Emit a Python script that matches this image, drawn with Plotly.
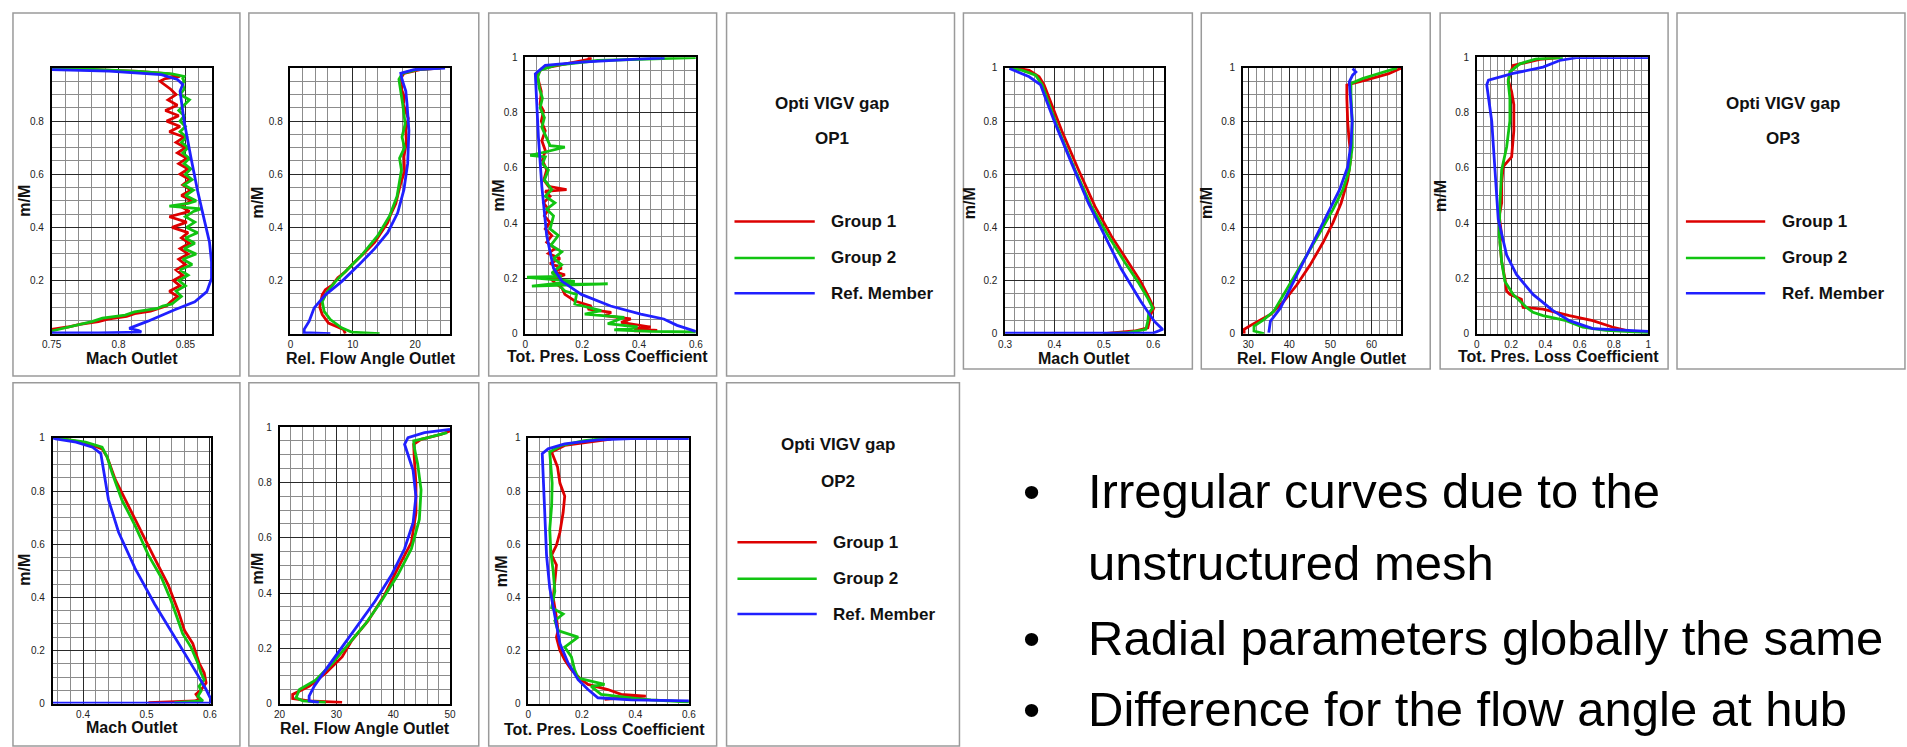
import plotly.graph_objects as go

W, H = 1907, 747
RED, GREEN, BLUE = '#dd0000', '#11c411', '#2020ff'

# ---------------- DATA (m/M on y) ----------------
# OP1 Mach Outlet
op1_mach_g1_x = [0.75, 0.762, 0.771, 0.785, 0.792, 0.806, 0.812, 0.824, 0.830, 0.836,
                 0.839, 0.844, 0.838, 0.846, 0.841, 0.848, 0.843, 0.850, 0.845, 0.852,
                 0.846, 0.853, 0.847, 0.852, 0.840, 0.851, 0.838, 0.853, 0.846, 0.855,
                 0.847, 0.854, 0.848, 0.853, 0.846, 0.852, 0.845, 0.851, 0.844, 0.850,
                 0.843, 0.849, 0.838, 0.846, 0.836, 0.845, 0.835, 0.844, 0.837, 0.843,
                 0.839, 0.834, 0.831, 0.835, 0.846, 0.838, 0.815, 0.785, 0.75]
op1_mach_g1_y = [0.016, 0.025, 0.035, 0.045, 0.055, 0.065, 0.075, 0.085, 0.095, 0.105,
                 0.12, 0.14, 0.16, 0.18, 0.20, 0.22, 0.24, 0.26, 0.28, 0.30,
                 0.32, 0.34, 0.36, 0.38, 0.40, 0.42, 0.44, 0.46, 0.48, 0.50,
                 0.52, 0.54, 0.56, 0.58, 0.60, 0.62, 0.64, 0.66, 0.68, 0.70,
                 0.72, 0.74, 0.76, 0.78, 0.80, 0.82, 0.84, 0.86, 0.88, 0.90,
                 0.92, 0.94, 0.95, 0.96, 0.968, 0.978, 0.987, 0.993, 0.997]
op1_mach_g2_x = [0.75, 0.765, 0.780, 0.788, 0.805, 0.812, 0.829, 0.833, 0.840,
                 0.842, 0.847, 0.843, 0.850, 0.845, 0.852, 0.846, 0.855, 0.848, 0.858,
                 0.849, 0.857, 0.850, 0.859, 0.851, 0.857, 0.850, 0.856, 0.862, 0.838,
                 0.852, 0.858, 0.850, 0.856, 0.849, 0.855, 0.850, 0.854, 0.849, 0.853,
                 0.848, 0.852, 0.847, 0.851, 0.846, 0.850, 0.846, 0.849, 0.845, 0.849,
                 0.853, 0.846, 0.849, 0.848, 0.849, 0.848, 0.849, 0.840, 0.815, 0.785, 0.75]
op1_mach_g2_y = [0.010, 0.028, 0.045, 0.058, 0.070, 0.082, 0.095, 0.104, 0.112,
                 0.12, 0.14, 0.16, 0.18, 0.20, 0.22, 0.24, 0.26, 0.28, 0.30,
                 0.32, 0.34, 0.36, 0.38, 0.40, 0.42, 0.44, 0.46, 0.47, 0.48,
                 0.49, 0.50, 0.52, 0.54, 0.56, 0.58, 0.60, 0.62, 0.64, 0.66,
                 0.68, 0.70, 0.72, 0.74, 0.76, 0.78, 0.80, 0.82, 0.84, 0.86,
                 0.88, 0.90, 0.92, 0.94, 0.95, 0.96, 0.968, 0.978, 0.987, 0.994, 1.0]
op1_mach_ref_x = [0.75, 0.785, 0.817, 0.815, 0.808, 0.822, 0.842, 0.857, 0.866, 0.8695,
                  0.8695, 0.868, 0.864, 0.859, 0.854, 0.849, 0.846, 0.848, 0.844, 0.832,
                  0.793, 0.75]
op1_mach_ref_y = [0.003, 0.003, 0.006, 0.012, 0.02, 0.047, 0.09, 0.12, 0.158, 0.208,
                  0.27, 0.344, 0.43, 0.54, 0.666, 0.80, 0.913, 0.938, 0.957, 0.975,
                  0.988, 0.994]

# OP1 Rel. Flow Angle Outlet
op1_ang_g1_x = [8.8, 8.5, 6.1, 5.1, 4.7, 5.1, 5.6, 6.7, 7.6, 8.8, 9.9, 10.9, 12.1, 13.5,
                14.5, 15.6, 16.1, 16.9, 17.3, 17.7, 18.3, 18.2, 18.6, 18.5, 18.9, 18.1,
                18.3, 17.8, 18.0, 17.6, 18.2, 20.8, 24.0]
op1_ang_g1_y = [0.0, 0.016, 0.04, 0.072, 0.10, 0.146, 0.165, 0.183, 0.21, 0.233, 0.26,
                0.282, 0.31, 0.344, 0.38, 0.418, 0.45, 0.49, 0.53, 0.567, 0.61, 0.666,
                0.72, 0.765, 0.81, 0.864, 0.89, 0.92, 0.94, 0.957, 0.98, 0.994, 1.0]
op1_ang_g2_x = [14.3, 9.8, 8.2, 6.4, 5.4, 5.1, 5.9, 7.2, 9.3, 11.4, 14.0, 15.9, 17.1,
                17.8, 17.5, 18.3, 17.9, 18.4, 18.0, 17.6, 17.4, 18.0, 20.3, 24.0]
op1_ang_g2_y = [0.0, 0.006, 0.022, 0.053, 0.084, 0.121, 0.158, 0.196, 0.245, 0.295,
                0.369, 0.443, 0.517, 0.616, 0.66, 0.70, 0.74, 0.79, 0.864, 0.926,
                0.957, 0.98, 0.994, 1.0]
op1_ang_ref_x = [6.4, 2.2, 2.2, 3.0, 3.8, 5.6, 8.2, 10.9, 13.5, 15.6, 17.2, 18.2, 18.8,
                 19.0, 18.7, 18.5, 17.9, 17.7, 19.8, 24.8]
op1_ang_ref_y = [0.0, 0.004, 0.016, 0.047, 0.097, 0.146, 0.196, 0.257, 0.32, 0.38,
                 0.455, 0.542, 0.64, 0.765, 0.864, 0.913, 0.957, 0.98, 0.994, 1.0]

# OP1 Tot. Pres. Loss Coefficient
op1_loss_g1_x = [0.383, 0.464, 0.383, 0.441, 0.337, 0.371, 0.279, 0.302, 0.22, 0.232,
                 0.174, 0.139, 0.128, 0.104, 0.093, 0.139, 0.099, 0.128, 0.087, 0.122,
                 0.081, 0.104, 0.075, 0.093, 0.07, 0.087, 0.067, 0.081, 0.064, 0.087,
                 0.07, 0.145, 0.081, 0.065, 0.075, 0.06, 0.07, 0.058, 0.07, 0.056,
                 0.064, 0.052, 0.056, 0.046, 0.041, 0.058, 0.139, 0.232, 0.22]
op1_loss_g1_y = [0.01, 0.012, 0.018, 0.024, 0.041, 0.053, 0.065, 0.077, 0.089, 0.1,
                 0.118, 0.142, 0.166, 0.183, 0.195, 0.213, 0.225, 0.237, 0.254, 0.272,
                 0.29, 0.308, 0.331, 0.355, 0.379, 0.402, 0.426, 0.45, 0.473, 0.497,
                 0.515, 0.521, 0.533, 0.556, 0.592, 0.627, 0.663, 0.698, 0.734, 0.769,
                 0.805, 0.828, 0.876, 0.911, 0.935, 0.959, 0.976, 0.994, 1.0]
op1_loss_g2_x = [0.6, 0.441, 0.313, 0.395, 0.29, 0.348, 0.209, 0.267, 0.174, 0.18,
                 0.139, 0.116, 0.29, 0.023, 0.174, 0.006, 0.128, 0.093, 0.128, 0.099,
                 0.128, 0.09, 0.116, 0.087, 0.099, 0.075, 0.104, 0.07, 0.093, 0.067,
                 0.081, 0.06, 0.07, 0.017, 0.07, 0.139, 0.087, 0.075, 0.058, 0.067,
                 0.052, 0.06, 0.049, 0.044, 0.052, 0.104, 0.255, 0.6]
op1_loss_g2_y = [0.006, 0.008, 0.014, 0.024, 0.036, 0.059, 0.071, 0.083, 0.107, 0.142,
                 0.154, 0.178, 0.18, 0.172, 0.189, 0.204, 0.207, 0.219, 0.249, 0.272,
                 0.296, 0.32, 0.355, 0.379, 0.426, 0.45, 0.473, 0.497, 0.521, 0.556,
                 0.592, 0.615, 0.639, 0.645, 0.657, 0.675, 0.68, 0.71, 0.746, 0.781,
                 0.817, 0.852, 0.888, 0.929, 0.953, 0.97, 0.988, 0.998]
op1_loss_ref_x = [0.6, 0.534, 0.487, 0.406, 0.30, 0.197, 0.128, 0.099, 0.075, 0.058,
                  0.046, 0.037, 0.035, 0.07, 0.197, 0.406, 0.49]
op1_loss_ref_y = [0.008, 0.03, 0.053, 0.071, 0.10, 0.142, 0.19, 0.237, 0.355, 0.533,
                  0.71, 0.876, 0.94, 0.97, 0.982, 0.994, 0.997]

# OP3 Mach Outlet
op3_mach_g1_x = [0.50, 0.562, 0.589, 0.595, 0.601, 0.592, 0.575, 0.549, 0.515, 0.482,
                 0.449, 0.415, 0.389, 0.379, 0.369, 0.349, 0.322]
op3_mach_g1_y = [0.0, 0.01, 0.022, 0.072, 0.096, 0.133, 0.195, 0.27, 0.368, 0.479,
                 0.615, 0.763, 0.886, 0.936, 0.967, 0.991, 1.0]
op3_mach_g2_x = [0.50, 0.549, 0.585, 0.589, 0.591, 0.599, 0.589, 0.569, 0.542, 0.509,
                 0.475, 0.442, 0.409, 0.385, 0.375, 0.362, 0.335, 0.309]
op3_mach_g2_y = [0.0, 0.004, 0.016, 0.047, 0.078, 0.096, 0.133, 0.195, 0.27, 0.368,
                 0.479, 0.615, 0.763, 0.886, 0.936, 0.973, 0.991, 1.0]
op3_mach_ref_x = [0.30, 0.60, 0.619, 0.602, 0.575, 0.535, 0.502, 0.469, 0.435, 0.402,
                  0.382, 0.372, 0.349, 0.325, 0.309]
op3_mach_ref_y = [0.002, 0.002, 0.016, 0.047, 0.121, 0.244, 0.368, 0.49, 0.64, 0.788,
                  0.886, 0.936, 0.967, 0.985, 0.998]

# OP3 Rel. Flow Angle Outlet
op3_ang_g1_x = [29.0, 29.0, 31.0, 35.4, 38.6, 41.8, 45.0, 48.2, 50.6, 52.6, 54.2, 55.0,
                54.5, 54.2, 54.0, 54.0, 58.6, 64.2, 67.3]
op3_ang_g1_y = [0.0, 0.016, 0.035, 0.072, 0.121, 0.183, 0.257, 0.343, 0.417, 0.491,
                0.578, 0.664, 0.738, 0.80, 0.886, 0.936, 0.954, 0.979, 1.0]
op3_ang_g2_x = [33.8, 31.4, 31.4, 33.8, 36.2, 38.6, 41.0, 44.2, 47.4, 50.6, 53.0, 54.6,
                55.3, 55.3, 55.0, 55.0, 57.8, 63.4, 66.2]
op3_ang_g2_y = [0.0, 0.01, 0.028, 0.053, 0.084, 0.146, 0.207, 0.294, 0.38, 0.467,
                0.541, 0.615, 0.701, 0.80, 0.899, 0.942, 0.96, 0.985, 1.0]
op3_ang_ref_x = [35.0, 35.4, 37.8, 40.2, 42.6, 45.0, 47.4, 49.8, 52.2, 54.2, 55.0, 55.3,
                 55.0, 54.6, 55.4, 56.2, 55.4]
op3_ang_ref_y = [0.004, 0.047, 0.096, 0.17, 0.244, 0.318, 0.393, 0.467, 0.541, 0.627,
                 0.714, 0.80, 0.886, 0.948, 0.973, 0.985, 0.998]

# OP3 Tot. Pres. Loss Coefficient
op3_loss_g1_x = [0.869, 0.79, 0.676, 0.54, 0.386, 0.27, 0.26, 0.193, 0.174, 0.164,
                 0.145, 0.135, 0.145, 0.131, 0.145, 0.145, 0.154, 0.203, 0.216, 0.216,
                 0.203, 0.183, 0.212, 0.367, 0.483]
op3_loss_g1_y = [0.012, 0.024, 0.047, 0.065, 0.089, 0.095, 0.124, 0.142, 0.154, 0.2,
                 0.26, 0.331, 0.355, 0.426, 0.473, 0.544, 0.604, 0.639, 0.734, 0.828,
                 0.876, 0.917, 0.97, 0.992, 0.998]
op3_loss_g2_x = [1.0, 0.753, 0.618, 0.521, 0.386, 0.328, 0.29, 0.212, 0.164, 0.145,
                 0.131, 0.135, 0.145, 0.174, 0.193, 0.193, 0.183, 0.193, 0.251, 0.347,
                 0.502]
op3_loss_g2_y = [0.004, 0.012, 0.024, 0.047, 0.065, 0.077, 0.095, 0.142, 0.189, 0.26,
                 0.355, 0.473, 0.592, 0.675, 0.769, 0.852, 0.911, 0.947, 0.976, 0.994,
                 0.998]
op3_loss_ref_x = [1.0, 0.869, 0.676, 0.54, 0.444, 0.328, 0.232, 0.174, 0.125, 0.106,
                  0.087, 0.058, 0.068, 0.212, 0.386, 0.483, 0.58, 1.0]
op3_loss_ref_y = [0.008, 0.012, 0.018, 0.047, 0.083, 0.142, 0.213, 0.284, 0.414, 0.592,
                  0.769, 0.90, 0.917, 0.941, 0.964, 0.988, 0.998, 0.998]

# OP2 Mach Outlet
op2_mach_g1_x = [0.503, 0.576, 0.583, 0.578, 0.587, 0.594, 0.591, 0.583, 0.573, 0.56,
                 0.55, 0.534, 0.513, 0.492, 0.472, 0.451, 0.438, 0.430, 0.409, 0.378,
                 0.355]
op2_mach_g1_y = [0.004, 0.01, 0.016, 0.035, 0.055, 0.078, 0.115, 0.152, 0.226, 0.275,
                 0.349, 0.448, 0.546, 0.645, 0.744, 0.842, 0.928, 0.959, 0.978, 0.993,
                 1.0]
op2_mach_g2_x = [0.544, 0.589, 0.581, 0.586, 0.583, 0.591, 0.586, 0.581, 0.570, 0.557,
                 0.55, 0.539, 0.524, 0.503, 0.482, 0.461, 0.446, 0.438, 0.430, 0.404,
                 0.357]
op2_mach_g2_y = [0.004, 0.01, 0.028, 0.047, 0.065, 0.09, 0.115, 0.152, 0.213, 0.263,
                 0.312, 0.386, 0.472, 0.559, 0.67, 0.768, 0.867, 0.928, 0.965, 0.984,
                 1.0]
op2_mach_ref_x = [0.352, 0.601, 0.6016, 0.594, 0.576, 0.544, 0.513, 0.482, 0.456, 0.440,
                  0.433, 0.428, 0.415, 0.389, 0.357, 0.352]
op2_mach_ref_y = [0.002, 0.002, 0.016, 0.053, 0.127, 0.25, 0.374, 0.509, 0.645, 0.768,
                  0.867, 0.941, 0.965, 0.984, 0.996, 1.0]

# OP2 Rel. Flow Angle Outlet
op2_ang_g1_x = [31.0, 25.2, 22.3, 22.3, 25.2, 28.1, 31.0, 32.7, 35.6, 38.5, 40.8, 43.2,
                44.0, 44.0, 43.7, 43.6, 44.9, 48.4, 50.0]
op2_ang_g1_y = [0.004, 0.01, 0.018, 0.033, 0.063, 0.11, 0.169, 0.228, 0.30, 0.394,
                0.489, 0.583, 0.69, 0.796, 0.891, 0.938, 0.956, 0.974, 0.986]
op2_ang_g2_x = [28.1, 24.1, 22.9, 23.5, 26.4, 29.3, 32.2, 35.1, 37.9, 40.8, 43.2, 44.6,
                44.9, 44.3, 43.7, 43.6, 46.1, 49.5]
op2_ang_g2_y = [0.004, 0.01, 0.021, 0.051, 0.086, 0.146, 0.217, 0.288, 0.37, 0.465,
                0.56, 0.666, 0.773, 0.867, 0.927, 0.95, 0.962, 0.98]
op2_ang_ref_x = [26.9, 25.2, 25.2, 26.1, 28.1, 31.0, 33.9, 36.8, 39.7, 42.0, 43.5, 44.0,
                 43.5, 42.6, 42.0, 42.6, 45.5, 50.0]
op2_ang_ref_y = [0.004, 0.01, 0.027, 0.063, 0.122, 0.205, 0.288, 0.37, 0.465, 0.56,
                 0.654, 0.749, 0.844, 0.903, 0.938, 0.962, 0.98, 0.992]

# OP2 Tot. Pres. Loss Coefficient
op2_loss_g1_x = [0.285, 0.439, 0.347, 0.297, 0.223, 0.198, 0.161, 0.136, 0.118, 0.105,
                 0.111, 0.105, 0.093, 0.099, 0.105, 0.087, 0.105, 0.118, 0.13, 0.136,
                 0.118, 0.109, 0.093, 0.087, 0.136, 0.26, 0.309]
op2_loss_g1_y = [0.016, 0.028, 0.035, 0.053, 0.072, 0.09, 0.127, 0.164, 0.2, 0.25,
                 0.275, 0.324, 0.398, 0.46, 0.522, 0.559, 0.596, 0.645, 0.719, 0.781,
                 0.83, 0.891, 0.928, 0.947, 0.972, 0.99, 0.996]
op2_loss_g2_x = [0.6, 0.458, 0.384, 0.272, 0.235, 0.285, 0.186, 0.173, 0.161, 0.136,
                 0.186, 0.111, 0.099, 0.13, 0.087, 0.099, 0.093, 0.084, 0.08, 0.087,
                 0.089, 0.084, 0.08, 0.124, 0.21, 0.285]
op2_loss_g2_y = [0.006, 0.014, 0.022, 0.035, 0.065, 0.072, 0.096, 0.127, 0.176, 0.213,
                 0.25, 0.275, 0.312, 0.337, 0.361, 0.423, 0.497, 0.571, 0.657, 0.744,
                 0.83, 0.904, 0.947, 0.972, 0.99, 0.998]
op2_loss_ref_x = [0.6, 0.384, 0.26, 0.223, 0.186, 0.149, 0.118, 0.099, 0.08, 0.068,
                  0.062, 0.056, 0.052, 0.074, 0.136, 0.26, 0.384, 0.6]
op2_loss_ref_y = [0.01, 0.014, 0.022, 0.053, 0.09, 0.152, 0.226, 0.324, 0.435, 0.559,
                  0.682, 0.805, 0.941, 0.959, 0.978, 0.993, 0.998, 0.998]

# Tick values / labels
mach1_ticks, mach1_labels = [0.75, 0.8, 0.85], ['0.75', '0.8', '0.85']
ang1_ticks = [0, 10, 20]
loss_ticks6 = [0, 0.2, 0.4, 0.6]
mach3_ticks = [0.3, 0.4, 0.5, 0.6]
ang3_ticks = [30, 40, 50, 60]
loss_ticks10 = [0, 0.2, 0.4, 0.6, 0.8, 1]
mach2_ticks = [0.4, 0.5, 0.6]
ang2_ticks = [20, 30, 40, 50]
y_ticks_inner = [0.2, 0.4, 0.6, 0.8]
y_ticks_full = [0, 0.2, 0.4, 0.6, 0.8, 1]

legend_names = ['Group 1', 'Group 2', 'Ref. Member']
bullets = ['Irregular curves due to the', 'unstructured mesh',
           'Radial parameters globally the same', 'Difference for the flow angle at hub']

# ---------------- LAYOUT CONFIG ----------------
def fx(p):
    return p / W

def fy(p):
    return 1 - p / H

panels = [
    dict(s=[(op1_mach_g1_x, op1_mach_g1_y), (op1_mach_g2_x, op1_mach_g2_y), (op1_mach_ref_x, op1_mach_ref_y)],
         box=(42, 204, 63, 333), xr=[0.75, 0.87], xt=mach1_ticks, xl=mach1_labels, xm=0.01, yt=y_ticks_inner,
         title='Mach Outlet', tpos=(123, 358), ypos=(15, 198)),
    dict(s=[(op1_ang_g1_x, op1_ang_g1_y), (op1_ang_g2_x, op1_ang_g2_y), (op1_ang_ref_x, op1_ang_ref_y)],
         box=(283, 444, 63, 333), xr=[0, 25.6], xt=ang1_ticks, xl=None, xm=2, yt=y_ticks_inner,
         title='Rel. Flow Angle Outlet', tpos=(364, 358), ypos=(250, 200)),
    dict(s=[(op1_loss_g1_x, op1_loss_g1_y), (op1_loss_g2_x, op1_loss_g2_y), (op1_loss_ref_x, op1_loss_ref_y)],
         box=(520, 692, 52, 333), xr=[0, 0.6], xt=loss_ticks6, xl=None, xm=0.04, yt=y_ticks_full,
         title='Tot. Pres. Loss Coefficient', tpos=(603, 356), ypos=(493, 193)),
    dict(s=[(op3_mach_g1_x, op3_mach_g1_y), (op3_mach_g2_x, op3_mach_g2_y), (op3_mach_ref_x, op3_mach_ref_y)],
         box=(1004, 1164, 63, 333), xr=[0.3, 0.621], xt=mach3_ticks, xl=None, xm=0.02, yt=y_ticks_full,
         title='Mach Outlet', tpos=(1084, 358), ypos=(968, 200)),
    dict(s=[(op3_ang_g1_x, op3_ang_g1_y), (op3_ang_g2_x, op3_ang_g2_y), (op3_ang_ref_x, op3_ang_ref_y)],
         box=(1244, 1404, 63, 333), xr=[28.7, 67.3], xt=ang3_ticks, xl=None, xm=2, yt=y_ticks_full,
         title='Rel. Flow Angle Outlet', tpos=(1324, 358), ypos=(1208, 200)),
    dict(s=[(op3_loss_g1_x, op3_loss_g1_y), (op3_loss_g2_x, op3_loss_g2_y), (op3_loss_ref_x, op3_loss_ref_y)],
         box=(1480, 1653, 52, 333), xr=[0, 1], xt=loss_ticks10, xl=None, xm=0.04, yt=y_ticks_full,
         title='Tot. Pres. Loss Coefficient', tpos=(1562, 356), ypos=(1444, 193)),
    dict(s=[(op2_mach_g1_x, op2_mach_g1_y), (op2_mach_g2_x, op2_mach_g2_y), (op2_mach_ref_x, op2_mach_ref_y)],
         box=(43, 203, 439, 709), xr=[0.352, 0.602], xt=mach2_ticks, xl=None, xm=0.02, yt=y_ticks_full,
         title='Mach Outlet', tpos=(123, 733), ypos=(15, 573)),
    dict(s=[(op2_ang_g1_x, op2_ang_g1_y), (op2_ang_g2_x, op2_ang_g2_y), (op2_ang_ref_x, op2_ang_ref_y)],
         box=(272, 444, 428, 709), xr=[20, 50], xt=ang2_ticks, xl=None, xm=2, yt=y_ticks_full,
         title='Rel. Flow Angle Outlet', tpos=(358, 734), ypos=(250, 572)),
    dict(s=[(op2_loss_g1_x, op2_loss_g1_y), (op2_loss_g2_x, op2_loss_g2_y), (op2_loss_ref_x, op2_loss_ref_y)],
         box=(523, 685, 439, 709), xr=[0, 0.6], xt=loss_ticks6, xl=None, xm=0.04, yt=y_ticks_full,
         title='Tot. Pres. Loss Coefficient', tpos=(600, 735), ypos=(496, 575)),
]

colors = [RED, GREEN, BLUE]
FONT = 'Liberation Sans, Arial, sans-serif'
fig = go.Figure()
layout = {}
annotations = []
shapes = []

# panel frames (Tecplot frames)
frames = [(3, 232, 7, 376), (241, 473, 7, 376), (483, 713, 7, 376), (723, 953, 7, 376),
          (962, 1193, 7, 369), (1202, 1433, 7, 369), (1443, 1673, 7, 369), (1682, 1912, 7, 369),
          (3, 232, 383, 752), (241, 473, 383, 752), (483, 713, 383, 752), (723, 958, 383, 752)]
for (a, b, c, d) in frames:
    shapes.append(dict(type='rect', xref='paper', yref='paper', x0=fx(a), x1=fx(b), y0=fy(d), y1=fy(c),
                       line=dict(color='#9a9a9a', width=1.5), layer='below'))

for i, p in enumerate(panels):
    n = i + 1
    sfx = '' if n == 1 else str(n)
    xa, ya = 'x' + sfx, 'y' + sfx
    for (xs, ys), col in zip(p['s'], colors):
        fig.add_trace(go.Scatter(x=xs, y=ys, xaxis=xa, yaxis=ya, mode='lines',
                                 line=dict(color=col, width=2.8), showlegend=False,
                                 hoverinfo='skip'))
    x0, x1, y0, y1 = p['box']
    tick_font = dict(family=FONT, size=10, color='#222')
    layout['xaxis' + sfx] = dict(
        domain=[fx(x0), fx(x1)], range=p['xr'], anchor=ya,
        tickvals=p['xt'], ticktext=p['xl'] if p['xl'] else None,
        showgrid=True, gridcolor='#2a2a2a', gridwidth=1,
        minor=dict(dtick=p['xm'], showgrid=True, gridcolor='#8c8c8c', gridwidth=1),
        showline=True, linecolor='black', linewidth=1.5, mirror=True,
        ticks='', tickfont=tick_font, zeroline=False, fixedrange=True, ticklabelstandoff=1)
    layout['yaxis' + sfx] = dict(
        domain=[fy(y1), fy(y0)], range=[0, 1], anchor=xa,
        tickvals=p['yt'], ticktext=[('%g' % v) for v in p['yt']],
        showgrid=True, gridcolor='#2a2a2a', gridwidth=1,
        minor=dict(dtick=0.05, showgrid=True, gridcolor='#8c8c8c', gridwidth=1),
        showline=True, linecolor='black', linewidth=1.5, mirror=True,
        ticks='', tickfont=tick_font, zeroline=False, fixedrange=True, ticklabelstandoff=4)
    tx, ty = p['tpos']
    annotations.append(dict(text='<b>%s</b>' % p['title'], x=fx(tx), y=fy(ty), xref='paper', yref='paper',
                            showarrow=False, xanchor='center', yanchor='middle',
                            font=dict(family=FONT, size=16, color='#111')))
    mx, my = p['ypos']
    annotations.append(dict(text='<b>m/M</b>', x=fx(mx), y=fy(my), xref='paper', yref='paper',
                            showarrow=False, xanchor='center', yanchor='middle', textangle=-90,
                            font=dict(family=FONT, size=16, color='#111')))

# legend boxes
legend_boxes = [
    dict(op='OP1', title_x=829, t1=99, t2=135, lx=(731, 812), ly=[219, 256, 292], text_x=826),
    dict(op='OP3', title_x=1789, t1=99, t2=135, lx=(1691, 1771), ly=[219, 256, 292], text_x=1786),
    dict(op='OP2', title_x=835, t1=446, t2=483, lx=(734, 814), ly=[545, 582, 618], text_x=828),
]
for lb in legend_boxes:
    for txt, yy in (('Opti VIGV gap', lb['t1']), (lb['op'], lb['t2'])):
        annotations.append(dict(text='<b>%s</b>' % txt, x=fx(lb['title_x']), y=fy(yy), xref='paper', yref='paper',
                                showarrow=False, xanchor='center', yanchor='middle',
                                font=dict(family=FONT, size=17, color='#111')))
    for name, col, yy in zip(legend_names, colors, lb['ly']):
        shapes.append(dict(type='line', xref='paper', yref='paper', x0=fx(lb['lx'][0]), x1=fx(lb['lx'][1]),
                           y0=fy(yy), y1=fy(yy), line=dict(color=col, width=2.5)))
        annotations.append(dict(text='<b>%s</b>' % name, x=fx(lb['text_x']), y=fy(yy), xref='paper', yref='paper',
                                showarrow=False, xanchor='left', yanchor='middle',
                                font=dict(family=FONT, size=17, color='#111')))

# bullet text
bullet_rows = [(493, True), (566, False), (642, True), (714, True)]
for txt, (yy, dot) in zip(bullets, bullet_rows):
    if dot:
        annotations.append(dict(text='•', x=fx(1031), y=fy(yy), xref='paper', yref='paper', showarrow=False,
                                xanchor='center', yanchor='middle', font=dict(family=FONT, size=49, color='black')))
    annotations.append(dict(text=txt, x=fx(1086), y=fy(yy), xref='paper', yref='paper', showarrow=False,
                            xanchor='left', yanchor='middle', font=dict(family=FONT, size=49, color='black')))

fig.update_layout(**layout)
fig.update_layout(width=W, height=H, margin=dict(l=0, r=0, t=0, b=0), paper_bgcolor='white',
                  plot_bgcolor='white', showlegend=False, annotations=annotations, shapes=shapes)
fig.write_html('out.html', config=dict(displayModeBar=False))
